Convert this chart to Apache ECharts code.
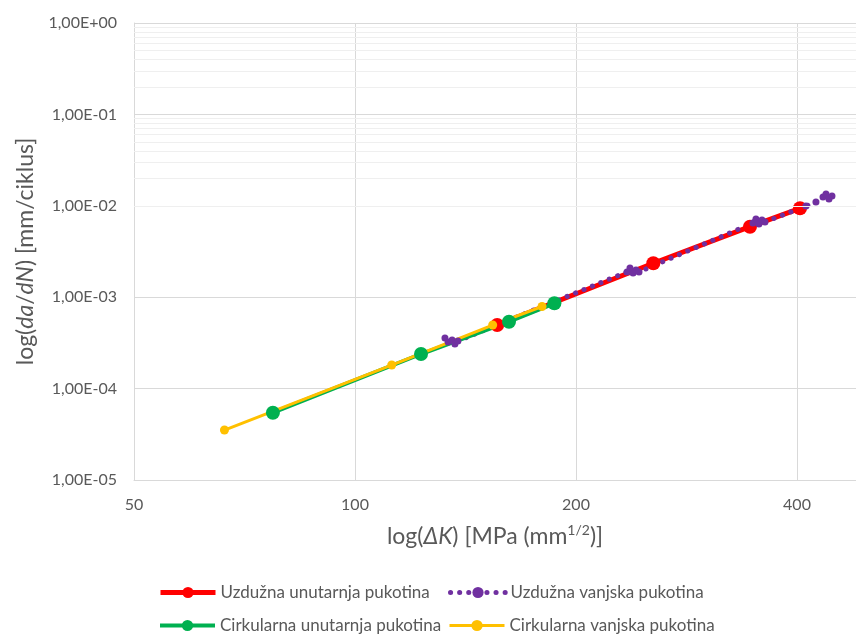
<!DOCTYPE html>
<html>
<head>
<meta charset="utf-8">
<script src="https://cdn.jsdelivr.net/npm/echarts@6/dist/echarts.min.js"></script>
<style>
html,body{margin:0;padding:0;background:#fff;}
#chart{width:856px;height:634px;}
</style>
</head>
<body>
<div id="chart"></div>
<script>
// ---- data (ΔK in MPa·mm^1/2, da/dN in mm/ciklus) ----
const seriesNames = ['Uzdužna unutarnja pukotina', 'Uzdužna vanjska pukotina', 'Cirkularna unutarnja pukotina', 'Cirkularna vanjska pukotina'];
const redX = [156.2, 254.9, 345.2, 403.8];
const redY = [4.96e-4, 2.35e-3, 5.91e-3, 9.39e-3];
const purpleX = [132.6, 133.9, 135.6, 136.8, 138.1, 234.7, 236.9, 239.2, 241.4, 243.7, 348.4, 351.7, 355.0, 358.4, 361.8, 411.4, 424.5, 434.0, 438.1, 442.2, 446.4];
const purpleY = [3.58e-4, 3.24e-4, 3.40e-4, 3.08e-4, 3.32e-4, 1.89e-3, 2.09e-3, 1.84e-3, 1.99e-3, 1.89e-3, 6.48e-3, 7.17e-3, 6.32e-3, 7.00e-3, 6.65e-3, 9.95e-3, 1.10e-2, 1.25e-2, 1.35e-2, 1.19e-2, 1.28e-2];
const greenX = [77.3, 123.0, 162.1, 186.9];
const greenY = [5.45e-5, 2.39e-4, 5.39e-4, 8.58e-4];
const yellowX = [66.4, 112.2, 154.0, 179.8];
const yellowY = [3.52e-5, 1.81e-4, 4.96e-4, 7.91e-4];
const xTickLabels = [50, 100, 200, 400];
const yMin = 1e-5, yMax = 1;

// x axis: base-2 logarithmic, counted from 50
const xBase = xTickLabels[0];
const toX = v => Math.log2(v / xBase);
const pairs = (xs, ys) => xs.map((x, i) => [toX(x), ys[i]]);

// minor horizontal grid lines at 2..9 x 10^n
const minorLines = [];
for (let e = -5; e < 0; e++) for (let k = 2; k <= 9; k++) minorLines.push({ yAxis: k * Math.pow(10, e) });

const FONT = 'Lato';
const GREY = '#595959';
const RED = '#FF0000', PURPLE = '#7030A0', GREEN = '#00B050', YELLOW = '#FFC000';

function fmtY(v) {
  const e = Math.round(Math.log10(v));
  const m = v / Math.pow(10, e);
  const s = e < 0 ? '-' : '+';
  const a = Math.abs(e);
  return m.toFixed(2).replace('.', ',') + 'E' + s + (a < 10 ? '0' + a : a);
}

const redLine = { color: RED, width: 5 };
const purpleLine = { color: PURPLE, width: 5, type: [0.1, 9], cap: 'round' };
const greenLine = { color: GREEN, width: 4 };
const yellowLine = { color: YELLOW, width: 3 };

const chart = echarts.init(document.getElementById('chart'));
const legendBase = {
  itemWidth: 55, itemHeight: 14, itemGap: 0,
  textStyle: { color: GREY, fontSize: 17, fontFamily: FONT },
  selectedMode: false
};
chart.setOption({
  animation: false,
  backgroundColor: '#fff',
  textStyle: { fontFamily: FONT },
  grid: { left: 134, right: 0, top: 23, bottom: 154, containLabel: false },
  legend: [
    Object.assign({}, legendBase, { left: 153, top: 579, data: [seriesNames[0]], lineStyle: redLine }),
    Object.assign({}, legendBase, { left: 443, top: 579, data: [seriesNames[1]], lineStyle: purpleLine }),
    Object.assign({}, legendBase, { left: 153, top: 612, data: [seriesNames[2]], lineStyle: greenLine }),
    Object.assign({}, legendBase, { left: 443, top: 612, data: [seriesNames[3]], lineStyle: yellowLine })
  ],
  xAxis: {
    type: 'value', min: 0, max: 3.267, interval: 1,
    axisLine: { show: true, lineStyle: { color: '#d9d9d9' } },
    axisTick: { show: false },
    splitLine: { show: true, lineStyle: { color: '#d9d9d9' } },
    axisLabel: {
      color: GREY, fontSize: 16, fontFamily: FONT, margin: 17, showMaxLabel: false,
      formatter: v => String(Math.round(xBase * Math.pow(2, v)))
    },
    name: '{n|log(}{i|ΔK}{n|) [MPa (mm}{s|1/2}{n|)]}',
    nameLocation: 'middle', nameGap: 43,
    nameTextStyle: {
      rich: {
        n: { fontSize: 23, color: GREY, fontFamily: FONT, lineHeight: 28 },
        i: { fontSize: 23, color: GREY, fontFamily: FONT, fontStyle: 'italic', lineHeight: 28 },
        s: { fontSize: 14, color: GREY, fontFamily: FONT, verticalAlign: 'top', lineHeight: 28, padding: [0, 0, 10, 0] }
      }
    }
  },
  yAxis: {
    type: 'log', logBase: 10, min: yMin, max: yMax,
    axisLine: { show: true, lineStyle: { color: '#d9d9d9' } },
    axisTick: { show: false },
    splitLine: { show: true, lineStyle: { color: '#d9d9d9' } },
    axisLabel: { color: GREY, fontSize: 16, fontFamily: FONT, margin: 17, formatter: fmtY },
    name: '{n|log(}{i|da}{n|/}{i|dN}{n|) [mm/ciklus]}',
    nameLocation: 'middle', nameGap: 93, nameRotate: 90,
    nameTextStyle: {
      rich: {
        n: { fontSize: 23, color: GREY, fontFamily: FONT },
        i: { fontSize: 23, color: GREY, fontFamily: FONT, fontStyle: 'italic' }
      }
    }
  },
  series: [
    {
      name: 'minor-grid', type: 'line', data: [], z: 1, silent: true,
      markLine: {
        silent: true, symbol: ['none', 'none'], label: { show: false },
        lineStyle: { color: '#efefef', width: 1, type: 'solid' },
        emphasis: { disabled: true },
        data: minorLines
      }
    },
    {
      name: seriesNames[0], type: 'line', data: pairs(redX, redY),
      symbol: 'circle', symbolSize: 14, showSymbol: true,
      itemStyle: { color: RED },
      lineStyle: redLine
    },
    {
      name: seriesNames[1], type: 'line', data: pairs(purpleX, purpleY),
      symbol: 'circle', symbolSize: 7, showSymbol: true,
      itemStyle: { color: PURPLE },
      lineStyle: purpleLine
    },
    {
      name: seriesNames[2], type: 'line', data: pairs(greenX, greenY),
      symbol: 'circle', symbolSize: 14, showSymbol: true,
      itemStyle: { color: GREEN },
      lineStyle: greenLine
    },
    {
      name: seriesNames[3], type: 'line', data: pairs(yellowX, yellowY),
      symbol: 'circle', symbolSize: 9, showSymbol: true,
      itemStyle: { color: YELLOW },
      lineStyle: yellowLine
    }
  ]
});
</script>
</body>
</html>
